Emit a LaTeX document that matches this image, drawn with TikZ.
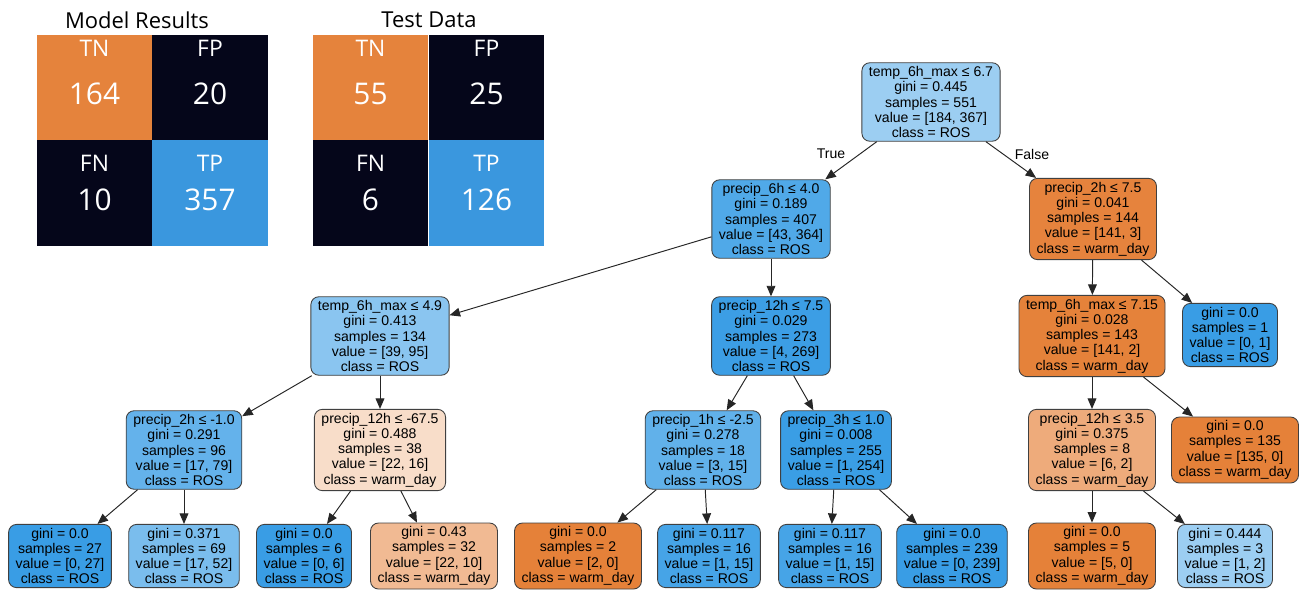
\documentclass[tikz,border=0pt]{standalone}
\usepackage{fontspec}
\setmainfont{Liberation Sans}
\newfontfamily\cmfont{Open Sans}
\usetikzlibrary{arrows.meta,positioning}

% confusion matrix colours
\definecolor{cmorange}{HTML}{E5833C}
\definecolor{cmblack}{HTML}{05061A}
\definecolor{cmblue}{HTML}{3A97DE}
% tree node colours
\definecolor{nroot}{HTML}{9CCEF2}
\definecolor{nsixh}{HTML}{50A9E8}
\definecolor{ntwoh}{HTML}{E6833D}
\definecolor{nfournine}{HTML}{8AC5F0}
\definecolor{ntwelvea}{HTML}{3C9EE5}
\definecolor{nsevenfifteen}{HTML}{E5823A}
\definecolor{npure}{HTML}{399DE5}
\definecolor{nwarm}{HTML}{E58139}
\definecolor{nminusone}{HTML}{64B2EB}
\definecolor{ntwelveb}{HTML}{F8DDC9}
\definecolor{noneh}{HTML}{61B1EA}
\definecolor{nthreeh}{HTML}{3A9EE5}
\definecolor{ntwelvec}{HTML}{EEAB7B}
\definecolor{nfiftytwo}{HTML}{7ABDED}
\definecolor{ntwentytwo}{HTML}{F1BA93}
\definecolor{nfifteen}{HTML}{46A4E7}

\tikzset{
  treenode/.style={draw=black!75, line width=0.5pt, rounded corners=4.5pt, align=center,
    font=\fontsize{8}{8.7}\selectfont, inner xsep=4pt, inner ysep=2pt},
  edge/.style={-{Triangle[length=6pt,width=5pt]}, line width=0.55pt, black!85},
  edgetag/.style={font=\fontsize{8}{8.7}\selectfont, inner sep=0pt},
  cell/.style={minimum width=2.31cm, minimum height=2.11cm, inner sep=0pt},
  celltag/.style={text=white, inner sep=0pt, font=\cmfont\fontsize{13}{13}\selectfont},
  cellnum/.style={text=white, inner sep=0pt, font=\cmfont\fontsize{17}{17}\selectfont},
  cmtitle/.style={inner sep=0pt, font=\cmfont\fontsize{12.5}{12.5}\selectfont},
}

\begin{document}
\begin{tikzpicture}[x=0.02cm,y=-0.02cm]
\useasboundingbox (0,0) rectangle (1301,595);

% Model Results
\node[cmtitle] (mtitle) at (137,20) {Model Results};
\node[cell, fill=cmorange] (mtn) at (94.5,87.5) {};
\node[cell, fill=cmblack] (mfp) at (210,87.5) {};
\node[cell, fill=cmblack] (mfn) at (94.5,193) {};
\node[cell, fill=cmblue] (mtp) at (210,193) {};
\node[celltag, below=0.1cm of mtn.north] {TN};
\node[celltag, below=0.1cm of mfp.north] {FP};
\node[celltag, below=0.3cm of mfn.north] {FN};
\node[celltag, below=0.3cm of mtp.north] {TP};
\node[cellnum] at ([yshift=-0.12cm]mtn.center) {164};
\node[cellnum] at ([yshift=-0.12cm]mfp.center) {20};
\node[cellnum] at ([yshift=-0.14cm]mfn.center) {10};
\node[cellnum] at ([yshift=-0.14cm]mtp.center) {357};

% Test Data
\node[cmtitle] (ttitle) at (429,20) {Test Data};
\node[cell, fill=cmorange] (ttn) at (370.5,87.5) {};
\node[cell, fill=cmblack] (tfp) at (486.5,87.5) {};
\node[cell, fill=cmblack] (tfn) at (370.5,193) {};
\node[cell, fill=cmblue] (ttp) at (486.5,193) {};
\node[celltag, below=0.1cm of ttn.north] {TN};
\node[celltag, below=0.1cm of tfp.north] {FP};
\node[celltag, below=0.3cm of tfn.north] {FN};
\node[celltag, below=0.3cm of ttp.north] {TP};
\node[cellnum] at ([yshift=-0.12cm]ttn.center) {55};
\node[cellnum] at ([yshift=-0.12cm]tfp.center) {25};
\node[cellnum] at ([yshift=-0.14cm]tfn.center) {6};
\node[cellnum] at ([yshift=-0.14cm]ttp.center) {126};

% decision tree
\node[treenode, fill=nroot] (root) at (931,102) {temp\_6h\_max ≤ 6.7\\gini = 0.445\\samples = 551\\value = [184, 367]\\class = ROS};

\node[treenode, fill=nsixh] (psix) at (771,219) {precip\_6h ≤ 4.0\\gini = 0.189\\samples = 407\\value = [43, 364]\\class = ROS};
\node[treenode, fill=ntwoh] (ptwo) at (1093,219) {precip\_2h ≤ 7.5\\gini = 0.041\\samples = 144\\value = [141, 3]\\class = warm\_day};

\node[treenode, fill=nfournine] (tfournine) at (380,336) {temp\_6h\_max ≤ 4.9\\gini = 0.413\\samples = 134\\value = [39, 95]\\class = ROS};
\node[treenode, fill=ntwelvea] (ptwelvea) at (771,336) {precip\_12h ≤ 7.5\\gini = 0.029\\samples = 273\\value = [4, 269]\\class = ROS};
\node[treenode, fill=nsevenfifteen] (tsevenfifteen) at (1092,336) {temp\_6h\_max ≤ 7.15\\gini = 0.028\\samples = 143\\value = [141, 2]\\class = warm\_day};
\node[treenode, fill=npure] (leafone) at (1230,335) {gini = 0.0\\samples = 1\\value = [0, 1]\\class = ROS};

\node[treenode, fill=nminusone] (pminusone) at (184,450) {precip\_2h ≤ -1.0\\gini = 0.291\\samples = 96\\value = [17, 79]\\class = ROS};
\node[treenode, fill=ntwelveb] (ptwelveb) at (380,450) {precip\_12h ≤ -67.5\\gini = 0.488\\samples = 38\\value = [22, 16]\\class = warm\_day};
\node[treenode, fill=noneh] (poneh) at (703,450) {precip\_1h ≤ -2.5\\gini = 0.278\\samples = 18\\value = [3, 15]\\class = ROS};
\node[treenode, fill=nthreeh] (pthreeh) at (836,450) {precip\_3h ≤ 1.0\\gini = 0.008\\samples = 255\\value = [1, 254]\\class = ROS};
\node[treenode, fill=ntwelvec] (ptwelvec) at (1092,450) {precip\_12h ≤ 3.5\\gini = 0.375\\samples = 8\\value = [6, 2]\\class = warm\_day};
\node[treenode, fill=nwarm] (leafonethreefive) at (1235,450) {gini = 0.0\\samples = 135\\value = [135, 0]\\class = warm\_day};

\node[treenode, fill=npure] (leafa) at (60,556) {gini = 0.0\\samples = 27\\value = [0, 27]\\class = ROS};
\node[treenode, fill=nfiftytwo] (leafb) at (184,556) {gini = 0.371\\samples = 69\\value = [17, 52]\\class = ROS};
\node[treenode, fill=npure] (leafc) at (304,556) {gini = 0.0\\samples = 6\\value = [0, 6]\\class = ROS};
\node[treenode, fill=ntwentytwo] (leafd) at (434,556) {gini = 0.43\\samples = 32\\value = [22, 10]\\class = warm\_day};
\node[treenode, fill=nwarm] (leafe) at (578,556) {gini = 0.0\\samples = 2\\value = [2, 0]\\class = warm\_day};
\node[treenode, fill=nfifteen] (leaff) at (709,556) {gini = 0.117\\samples = 16\\value = [1, 15]\\class = ROS};
\node[treenode, fill=nfifteen] (leafg) at (830,556) {gini = 0.117\\samples = 16\\value = [1, 15]\\class = ROS};
\node[treenode, fill=npure] (leafh) at (952,556) {gini = 0.0\\samples = 239\\value = [0, 239]\\class = ROS};
\node[treenode, fill=nwarm] (leafi) at (1092,556) {gini = 0.0\\samples = 5\\value = [5, 0]\\class = warm\_day};
\node[treenode, fill=nroot] (leafj) at (1225,556) {gini = 0.444\\samples = 3\\value = [1, 2]\\class = ROS};

\node[edgetag] (truetag) at (831,154) {True};
\node[edgetag] (falsetag) at (1032,154) {False};

\draw[edge] (root) -- (psix);
\draw[edge] (root) -- (ptwo);
\draw[edge] (psix) -- (tfournine);
\draw[edge] (psix) -- (ptwelvea);
\draw[edge] (ptwo) -- (tsevenfifteen);
\draw[edge] (ptwo) -- (leafone);
\draw[edge] (tfournine) -- (pminusone);
\draw[edge] (tfournine) -- (ptwelveb);
\draw[edge] (ptwelvea) -- (poneh);
\draw[edge] (ptwelvea) -- (pthreeh);
\draw[edge] (tsevenfifteen) -- (ptwelvec);
\draw[edge] (tsevenfifteen) -- (leafonethreefive);
\draw[edge] (pminusone) -- (leafa);
\draw[edge] (pminusone) -- (leafb);
\draw[edge] (ptwelveb) -- (leafc);
\draw[edge] (ptwelveb) -- (leafd);
\draw[edge] (poneh) -- (leafe);
\draw[edge] (poneh) -- (leaff);
\draw[edge] (pthreeh) -- (leafg);
\draw[edge] (pthreeh) -- (leafh);
\draw[edge] (ptwelvec) -- (leafi);
\draw[edge] (ptwelvec) -- (leafj);
\end{tikzpicture}
\end{document}
